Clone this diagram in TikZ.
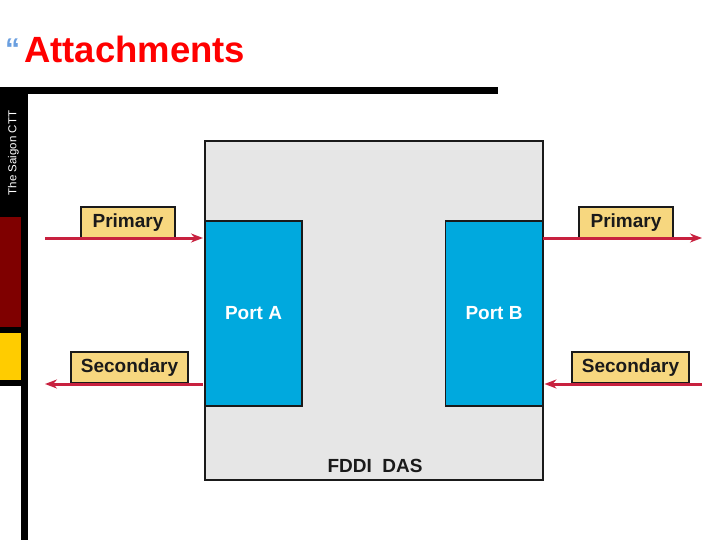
\documentclass[tikz,border=0pt]{standalone}
\usepackage{fontspec}
\setmainfont{Liberation Sans}
\usetikzlibrary{arrows.meta}
\definecolor{dasgray}{HTML}{E6E6E6}
\definecolor{portblue}{HTML}{00A9DE}
\definecolor{tagfill}{HTML}{F7D77F}
\definecolor{ringred}{HTML}{C8213F}
\definecolor{barred}{HTML}{7F0000}
\definecolor{baryellow}{HTML}{FFCC00}
\definecolor{quoteblue}{HTML}{6A9FE0}
\definecolor{inkdark}{HTML}{1A1A1A}
\begin{document}
\begin{tikzpicture}[x=1pt,y=-1pt,
  port/.style={draw=inkdark,line width=1.3pt,fill=portblue,text=white,inner sep=0pt,outer sep=0pt,
    minimum width=97pt,minimum height=185pt,font=\bfseries\fontsize{19}{22}\selectfont},
  tag/.style={draw=inkdark,line width=1.1pt,fill=tagfill,text=inkdark,inner sep=0pt,outer sep=0pt,
    minimum height=31pt,font=\bfseries\fontsize{19}{22}\selectfont},
  ring/.style={draw=ringred,line width=3pt,-{Stealth[length=12pt,width=9pt]}}]
\useasboundingbox (0,0) rectangle (720,540);
\fill[white] (0,0) rectangle (720,540);
% side bar
\fill[black] (0,87) rectangle (498,94);
\fill[black] (0,87) rectangle (28,386);
\fill[black] (21,386) rectangle (28,540);
\fill[barred] (0,217) rectangle (21,327);
\fill[baryellow] (0,333) rectangle (21,380);
\node[rotate=90,text=white,font=\fontsize{11.5}{13}\selectfont] (org) at (13.5,153) {The Saigon CTT};
% title
\node[text=quoteblue,font=\bfseries\fontsize{30}{32}\selectfont,anchor=base west,inner sep=0pt] (mark) at (5,60) {“};
\node[text=red,font=\bfseries\fontsize{36.5}{40}\selectfont,anchor=base west,inner sep=0pt] (title) at (24,63) {Attachments};
% station
\node[draw=inkdark,line width=1.3pt,fill=dasgray,minimum width=338pt,minimum height=339pt,inner sep=0pt,outer sep=0pt] (das) at (374,310.5) {};
\node[port] (portA) at (253.5,313.5) {Port A};
\node[port] (portB) at (494,313.5) {Port B};
\node[text=inkdark,font=\bfseries\fontsize{19}{22}\selectfont] (name) at (375,466) {FDDI\ \ DAS};
% rings
\node[tag,minimum width=94pt] (priA) at (128,222.5) {Primary};
\node[tag,minimum width=117pt] (secA) at (129.5,367.5) {Secondary};
\node[tag,minimum width=94pt] (priB) at (626,222.5) {Primary};
\node[tag,minimum width=117pt] (secB) at (630.5,367.5) {Secondary};
\coordinate (inP) at (45,238);
\coordinate (outS) at (45,384);
\coordinate (outP) at (702,238);
\coordinate (inS) at (702,384);
\draw[ring,shorten >=2pt] (inP) -- (inP -| portA.west);
\draw[ring,shorten <=2pt] (outS -| portA.west) -- (outS);
\draw[ring] (outP -| portB.east) -- (outP);
\draw[ring,shorten >=2pt] (inS) -- (inS -| portB.east);
\end{tikzpicture}
\end{document}
